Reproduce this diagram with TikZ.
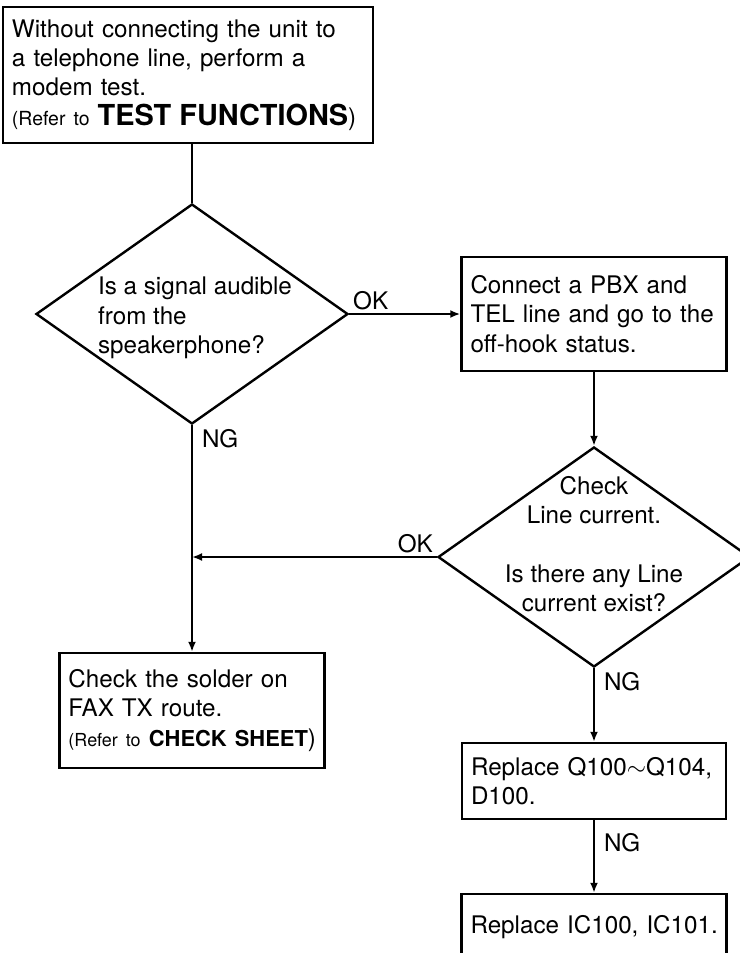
\documentclass[tikz,border=0pt]{standalone}
\usepackage{fontspec}
\setmainfont{TeX Gyre Heros}
\usetikzlibrary{arrows.meta,shapes.geometric}
\newcommand{\chartsize}{\fontsize{24.3}{29.5}\selectfont}
\newcommand{\refhint}{\fontsize{19.5}{29.5}\selectfont}

\begin{document}
\begin{tikzpicture}[
  x=1bp, y=-1bp,
  line width=2bp,
  box/.style={draw, line width=2.4bp, align=left, inner xsep=9bp, inner ysep=0pt, font=\chartsize},
  decision/.style={draw, diamond, line width=2.4bp, minimum width=312bp, minimum height=220bp, inner sep=0pt},
  qtext/.style={font=\chartsize, inner sep=0pt},
  tag/.style={font=\chartsize, inner sep=3bp},
  >={Latex[length=10bp,width=8bp]}
]
\useasboundingbox (0,0) rectangle (740,953);

\node[box, text width=352bp, minimum height=136bp] (modemtest) at (188,75) {Without connecting the unit to\\a telephone line, perform a\\modem test.\\\mbox{{\refhint(Refer to} {\fontsize{29}{29.5}\selectfont\bfseries TEST FUNCTIONS})}};
\node[decision, label={[qtext, align=left, xshift=3bp, yshift=-4bp]center:{Is a signal audible\\from the\\speakerphone?}}] (audible) at (192,314) {};
\node[box, text width=247bp, minimum height=114bp] (pbx) at (594,314) {Connect a PBX and\\TEL line and go to the\\off-hook status.};
\node[decision, label={[qtext, align=center, yshift=13bp]center:{Check\\Line current.\\[29.5bp]Is there any Line\\current exist?}}] (current) at (594,557) {};
\node[box, text width=247bp, minimum height=115bp] (solder) at (192,710.5) {Check the solder on\\FAX TX route.\\\mbox{{\fontsize{18}{29.5}\selectfont(Refer to} {\fontsize{22}{29.5}\selectfont\bfseries CHECK SHEET})}};
\node[box, text width=246bp, minimum height=76bp] (transistors) at (594,781) {\mbox{Replace Q100$\sim$Q104,}\\D100.};
\node[box, text width=247bp, minimum height=66bp] (ics) at (594,927) {\mbox{Replace IC100, IC101.}};

\draw (modemtest.south -| audible.north) -- (audible.north);
\draw[->] (audible.east) -- node[tag, above right, pos=0] {OK} (pbx.west);
\draw[->] (pbx.south) -- (current.north);
\draw[->] (audible.south) -- node[tag, below right, pos=0, xshift=6bp] {NG} (solder.north);
\draw[->] (current.west) -- node[tag, above left, pos=0] {OK} (current.west -| audible.south);
\draw[->] (current.south) -- node[tag, below right, pos=0, xshift=6bp] {NG} (transistors.north);
\draw[->] (transistors.south) -- node[tag, below right, pos=0.12, xshift=6bp] {NG} (ics.north);
\end{tikzpicture}
\end{document}
